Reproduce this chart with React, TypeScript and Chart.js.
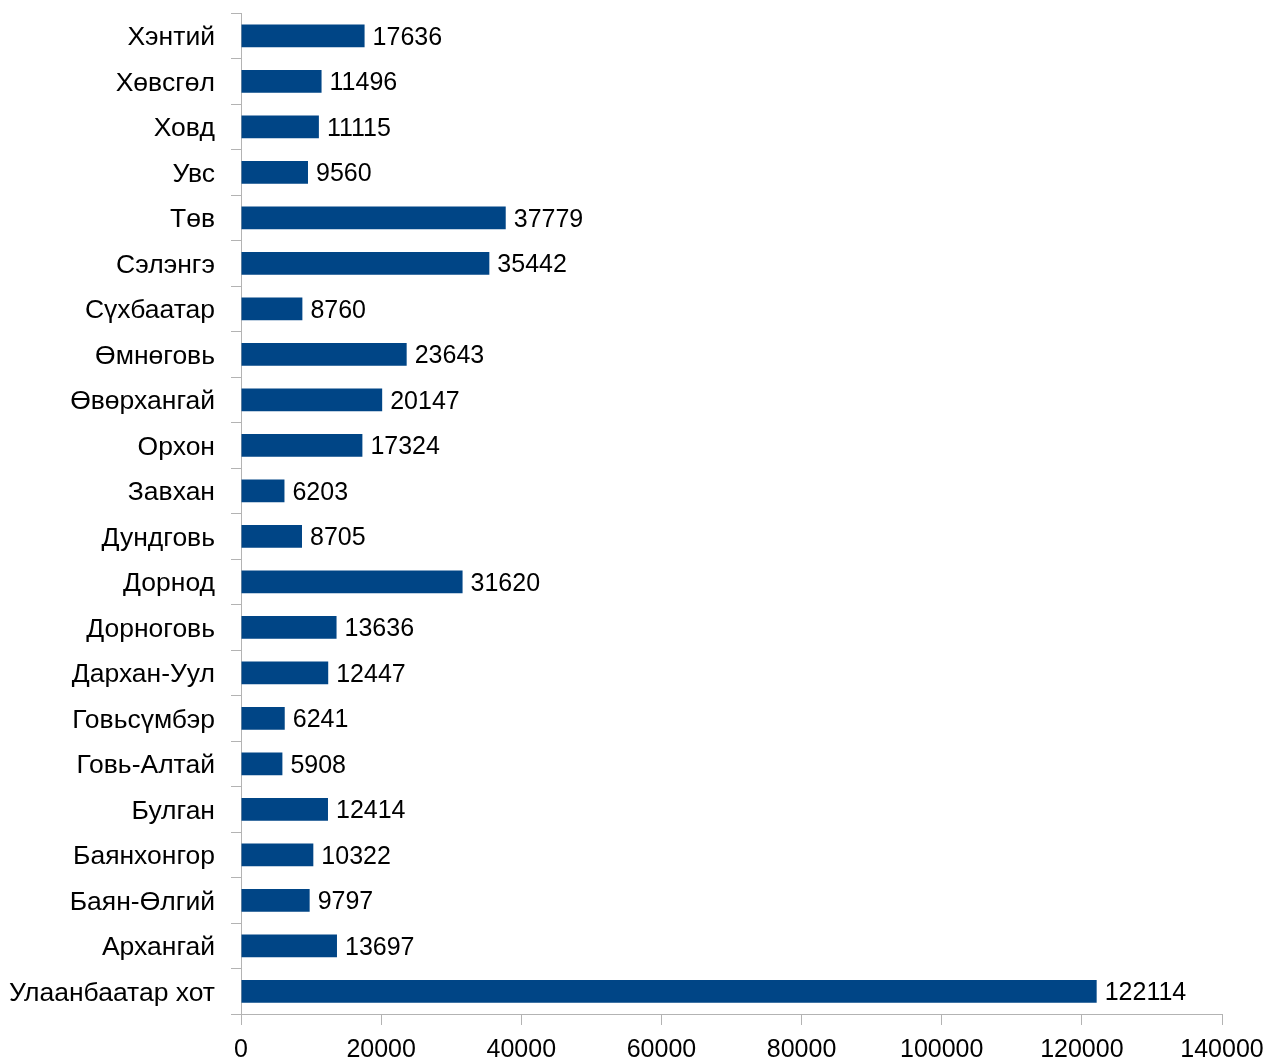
import React, { useEffect, useRef } from "react";
import { Chart, registerables } from "chart.js";

Chart.register(...registerables);

const categories = [
  "Хэнтий",
  "Хөвсгөл",
  "Ховд",
  "Увс",
  "Төв",
  "Сэлэнгэ",
  "Сүхбаатар",
  "Өмнөговь",
  "Өвөрхангай",
  "Орхон",
  "Завхан",
  "Дундговь",
  "Дорнод",
  "Дорноговь",
  "Дархан-Уул",
  "Говьсүмбэр",
  "Говь-Алтай",
  "Булган",
  "Баянхонгор",
  "Баян-Өлгий",
  "Архангай",
  "Улаанбаатар хот",
];

const values = [
  17636, 11496, 11115, 9560, 37779, 35442, 8760, 23643, 20147, 17324, 6203,
  8705, 31620, 13636, 12447, 6241, 5908, 12414, 10322, 9797, 13697, 122114,
];

const xTicks = [0, 20000, 40000, 60000, 80000, 100000, 120000, 140000];

const FONT = "'Liberation Sans', Arial, sans-serif";
const NUM_SIZE = 25;
const CAT_SIZE = 26.5;

const valueLabels = {
  id: "valueLabels",
  afterDatasetsDraw(chart: any) {
    const ctx = chart.ctx;
    const meta = chart.getDatasetMeta(0);
    ctx.save();
    ctx.font = `${NUM_SIZE}px ${FONT}`;
    ctx.fillStyle = "#000000";
    ctx.textAlign = "left";
    ctx.textBaseline = "middle";
    meta.data.forEach((bar: any, i: number) => {
      ctx.fillText(String(values[i]), bar.x + 8, bar.y + 2);
    });
    ctx.restore();
  },
};

const zeroPad = (scale: any) => {
  scale.paddingTop = 0;
  scale.paddingBottom = 0;
  scale.paddingLeft = 0;
  scale.paddingRight = 0;
};

export default function App() {
  const ref = useRef<HTMLCanvasElement | null>(null);

  useEffect(() => {
    if (!ref.current) return;
    const chart = new Chart(ref.current, {
      type: "bar",
      data: {
        labels: categories,
        datasets: [
          {
            data: values,
            backgroundColor: "#004586",
            borderWidth: 0,
            categoryPercentage: 1,
            barPercentage: 0.5,
          },
        ],
      },
      options: {
        indexAxis: "y",
        animation: false,
        responsive: false,
        maintainAspectRatio: false,
        layout: { padding: { top: 13, right: 46, left: 0, bottom: 0 } },
        plugins: {
          legend: { display: false },
          tooltip: { enabled: false },
        },
        scales: {
          x: {
            min: 0,
            max: 140000,
            afterBuildTicks: (scale: any) => {
              scale.ticks = xTicks.map((v) => ({ value: v }));
            },
            afterFit: (scale: any) => {
              scale.height = 47;
              zeroPad(scale);
            },
            grid: {
              drawOnChartArea: false,
              drawTicks: true,
              tickLength: 11,
              color: "#b3b3b3",
              lineWidth: 1,
            },
            border: { display: true, color: "#b3b3b3", width: 1 },
            ticks: {
              color: "#000000",
              font: { family: FONT, size: NUM_SIZE },
              padding: 10,
              maxRotation: 0,
              autoSkip: false,
              callback: (v: any) => String(v),
            },
          },
          y: {
            afterFit: (scale: any) => {
              scale.width = 241;
              zeroPad(scale);
            },
            grid: {
              drawOnChartArea: false,
              drawTicks: true,
              tickLength: 10,
              color: "#b3b3b3",
              lineWidth: 1,
              offset: true,
            },
            border: { display: true, color: "#b3b3b3", width: 1 },
            ticks: {
              color: "#000000",
              font: { family: FONT, size: CAT_SIZE },
              padding: 16,
              labelOffset: 2,
              autoSkip: false,
            },
          },
        },
      },
      plugins: [valueLabels],
    });
    return () => chart.destroy();
  }, []);

  return (
    <div
      style={{
        position: "fixed",
        left: 0,
        top: 0,
        width: 1268,
        height: 1061,
        background: "#ffffff",
      }}
    >
      <canvas ref={ref} width={1268} height={1061} style={{ width: 1268, height: 1061 }} />
    </div>
  );
}
